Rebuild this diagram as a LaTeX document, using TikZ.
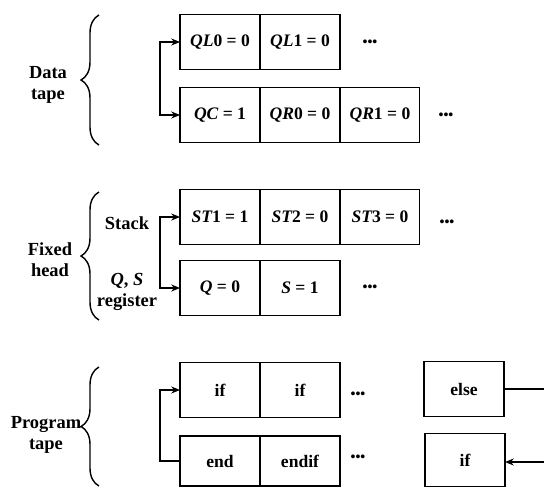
\documentclass[tikz,border=0pt]{standalone}
\usepackage{fontspec}
\setmainfont{Liberation Serif}
\usetikzlibrary{positioning,arrows.meta,decorations.pathreplacing}

\tikzset{
  cell/.style={draw, line width=0.6pt, minimum width=1.6cm, minimum height=1.1cm,
    inner sep=0pt, outer sep=0pt, font=\bfseries},
  lbl/.style={align=center, font=\fontsize{10.5}{12}\selectfont\bfseries},
  tbrace/.style={decorate, decoration={brace, amplitude=0.36cm}, line width=0.8pt},
  link/.style={line width=0.6pt},
  >={Stealth[length=5pt,width=4pt]}
}
\newcommand{\tdots}{{\fontsize{8}{9}\selectfont\bfseries •••}}

\begin{document}
\begin{tikzpicture}[x=0.02cm, y=-0.02cm]
\useasboundingbox (0,0) rectangle (544,487);

% --- Data tape ---
\node[lbl] (datalbl) at (48,85) {Data\\tape};
\draw[tbrace] (99,145) -- (99,15);

\node[cell] (ql0) at (220,42) {{\itshape QL}0 = 0};
\node[cell, right=0pt of ql0] (ql1) {{\itshape QL}1 = 0};
\node (qldots) at (370,43) {\tdots};

\node[cell] (qc) at (220,115) {{\itshape QC} = 1};
\node[cell, right=0pt of qc] (qr0) {{\itshape QR}0 = 0};
\node[cell, right=0pt of qr0] (qr1) {{\itshape QR}1 = 0};
\node (qrdots) at (446,116) {\tdots};

\draw[link, <->] (ql0.west) -- ++(-0.4cm,0) |- (qc.west);

% --- Fixed head ---
\node[lbl] (headlbl) at (50,260) {Fixed\\head};
\draw[tbrace] (99,320) -- (99,192);
\node[lbl] (stack) at (127,223) {Stack};
\node[lbl] (qsreg) at (127,292) {{\itshape Q}, {\itshape S}\\register};

\node[cell] (st1) at (220,217) {{\itshape ST}1 = 1};
\node[cell, right=0pt of st1] (st2) {{\itshape ST}2 = 0};
\node[cell, right=0pt of st2] (st3) {{\itshape ST}3 = 0};
\node (stdots) at (447,223) {\tdots};

\node[cell] (q) at (220,288) {{\itshape Q} = 0};
\node[cell, right=0pt of q] (s) {{\itshape S} = 1};
\node (qsdots) at (370,288) {\tdots};

\draw[link, <->] (st1.west) -- ++(-0.4cm,0) |- (q.west);

% --- Program tape ---
\node[lbl] (proglbl) at (46,435) {Program\\tape};
\draw[tbrace] (99,486) -- (99,367);

\node[cell] (if1) at (220,390) {if};
\node[cell, right=0pt of if1] (if2) {if};
\node (ifdots) at (358,395) {\tdots};
\node[cell] (else) at (464,389) {else};

\node[cell, minimum height=1.0cm] (end) at (220,461) {end};
\node[cell, minimum height=1.0cm, right=0pt of end] (endif) {endif};
\node (enddots) at (358,458) {\tdots};
\node[cell, minimum height=1.06cm] (ifb) at (465,460) {if};

\draw[link, ->] (end.west) -- ++(-0.4cm,0) |- (if1.west);

\coordinate (elseout) at (544,389);
\coordinate (ifin) at (544,462);
\draw[link] (else.east) -- (elseout);
\draw[link, ->] (ifin) -- (ifin -| ifb.east);

\end{tikzpicture}
\end{document}
